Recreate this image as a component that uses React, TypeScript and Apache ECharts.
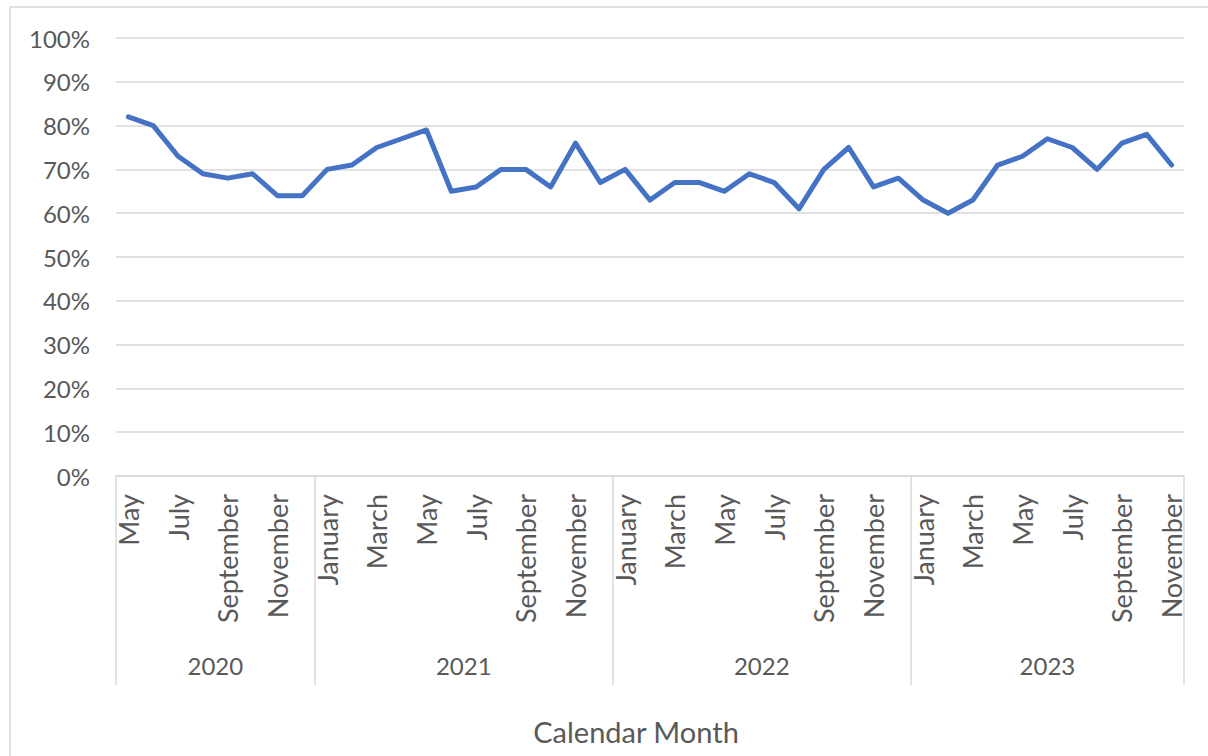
import React, { useEffect, useRef } from "react";
import * as echarts from "echarts";

// Monthly share (%) by calendar month
const monthNames = [
  "January", "February", "March", "April", "May", "June",
  "July", "August", "September", "October", "November", "December",
];
const yearLabels = ["2020", "2021", "2022", "2023"];
const firstMonth = 4; // series starts in May 2020
const values2020 = [82, 80, 73, 69, 68, 69, 64, 64];
const values2021 = [70, 71, 75, 77, 79, 65, 66, 70, 70, 66, 76, 67];
const values2022 = [70, 63, 67, 67, 65, 69, 67, 61, 70, 75, 66, 68];
const values2023 = [63, 60, 63, 71, 73, 77, 75, 70, 76, 78, 71];
const yTicks = [0, 10, 20, 30, 40, 50, 60, 70, 80, 90, 100];

const valuesByYear = [values2020, values2021, values2022, values2023];

const FONT = "Lato, 'Open Sans', sans-serif";
const TEXT = "#595959";
const GRID = "#D9D9D9";

export default function App() {
  const ref = useRef<HTMLDivElement>(null);

  useEffect(() => {
    if (!ref.current) return;
    const chart = echarts.init(ref.current, null, { renderer: "svg" });

    // Flatten year blocks into one category list
    const categories: string[] = [];
    const values: number[] = [];
    const boundaries: number[] = [0];
    const centers: number[] = [];
    valuesByYear.forEach((vals, yi) => {
      const start = yi === 0 ? firstMonth : 0;
      const from = categories.length;
      vals.forEach((v, i) => {
        categories.push(yearLabels[yi] + "|" + monthNames[start + i]);
        values.push(v);
      });
      boundaries.push(categories.length);
      centers.push((from + categories.length) / 2);
    });

    chart.setOption({
      animation: false,
      grid: { left: 116, right: 24, top: 38, bottom: 280, containLabel: false },
      graphic: [
        {
          type: "rect",
          shape: { x: 10, y: 7, width: 1400, height: 900 },
          style: { fill: "none", stroke: GRID, lineWidth: 1.5 },
          silent: true,
        },
        {
          type: "text",
          x: 636,
          y: 731,
          style: {
            text: "Calendar Month",
            fill: TEXT,
            font: `29px ${FONT}`,
            align: "center",
            verticalAlign: "middle",
          },
        },
      ],
      xAxis: [
        {
          type: "category",
          data: categories,
          boundaryGap: true,
          axisLine: { show: true, lineStyle: { color: GRID, width: 1.5 } },
          axisTick: { show: false },
          axisLabel: {
            interval: 1,
            rotate: 90,
            margin: 18,
            color: TEXT,
            fontFamily: FONT,
            fontSize: 27,
            formatter: (v: string) => v.split("|")[1],
          },
          splitLine: { show: false },
        },
        {
          type: "value",
          position: "bottom",
          min: 0,
          max: categories.length,
          axisLine: { show: false },
          axisTick: {
            show: true,
            inside: false,
            length: 209,
            customValues: boundaries,
            lineStyle: { color: GRID, width: 1.5 },
          },
          axisLabel: {
            show: true,
            customValues: centers,
            margin: 177,
            color: TEXT,
            fontFamily: FONT,
            fontSize: 24,
            formatter: (v: number) => {
              const idx = centers.findIndex((c) => Math.abs(c - v) < 1e-6);
              return idx >= 0 ? yearLabels[idx] : "";
            },
          },
          splitLine: { show: false },
        },
      ],
      yAxis: {
        type: "value",
        min: yTicks[0],
        max: yTicks[yTicks.length - 1],
        interval: yTicks[1] - yTicks[0],
        axisLine: { show: false },
        axisTick: { show: false },
        axisLabel: {
          margin: 26,
          color: TEXT,
          fontFamily: FONT,
          fontSize: 24,
          formatter: "{value}%",
        },
        splitLine: { show: true, lineStyle: { color: GRID, width: 1.5 } },
      },
      series: [
        {
          type: "line",
          xAxisIndex: 0,
          data: values,
          symbol: "none",
          smooth: false,
          lineStyle: { color: "#4472C4", width: 5, cap: "round", join: "round" },
        },
      ],
    });

    return () => chart.dispose();
  }, []);

  return (
    <div
      ref={ref}
      style={{ position: "fixed", left: 0, top: 0, width: 1208, height: 756, background: "#fff" }}
    />
  );
}
